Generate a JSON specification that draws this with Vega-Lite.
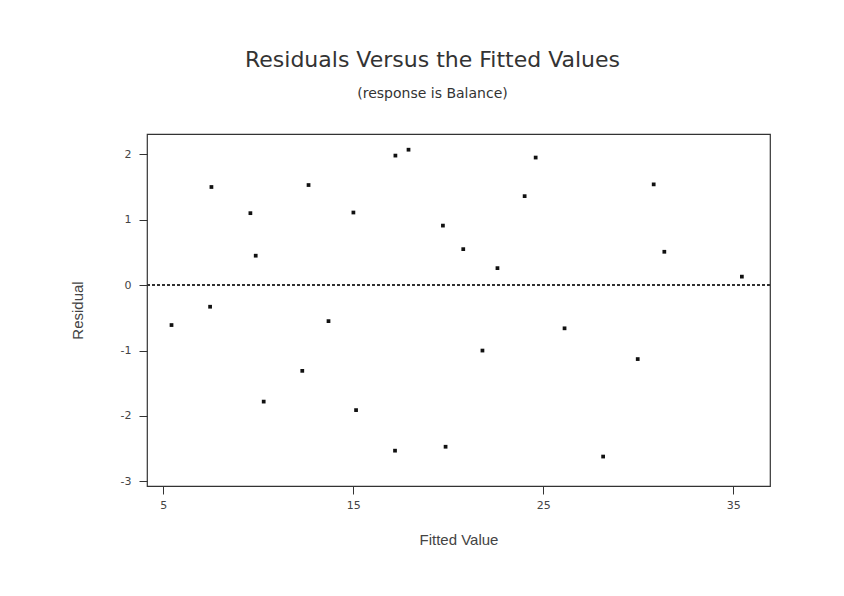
{
  "$schema": "https://vega.github.io/schema/vega-lite/v6.json",
  "width": 623,
  "height": 352,
  "autosize": {"type": "none"},
  "padding": {"left": 147, "top": 134, "right": 74, "bottom": 110},
  "background": "white",
  "config": {
    "font": "DejaVu Sans",
    "view": {"stroke": "#333", "strokeWidth": 1.2},
    "axis": {"grid": false, "domain": false, "tickColor": "#333", "tickSize": 8, "labelColor": "#444", "labelFontSize": 11, "titleColor": "#444", "titleFontWeight": "normal", "titleFontSize": 15, "labelFont": "DejaVu Sans", "titleFont": "Liberation Sans"}
  },
  "title": {
    "text": "Residuals Versus the Fitted Values",
    "subtitle": "(response is Balance)",
    "anchor": "middle",
    "dx": -26,
    "offset": 32,
    "fontSize": 22,
    "fontWeight": "normal",
    "color": "#333",
    "subtitleFontSize": 14,
    "subtitleColor": "#333",
    "subtitlePadding": 15,
    "font": "DejaVu Sans",
    "subtitleFont": "DejaVu Sans"
  },
  "data": {
    "values": [
      {"fitted": 5.44, "residual": -0.61},
      {"fitted": 7.47, "residual": -0.33},
      {"fitted": 7.54, "residual": 1.50},
      {"fitted": 9.59, "residual": 1.10},
      {"fitted": 9.87, "residual": 0.45},
      {"fitted": 10.29, "residual": -1.78},
      {"fitted": 12.32, "residual": -1.31},
      {"fitted": 12.65, "residual": 1.53},
      {"fitted": 13.70, "residual": -0.55},
      {"fitted": 15.01, "residual": 1.11},
      {"fitted": 15.15, "residual": -1.91},
      {"fitted": 17.20, "residual": -2.53},
      {"fitted": 17.22, "residual": 1.98},
      {"fitted": 17.91, "residual": 2.07},
      {"fitted": 19.72, "residual": 0.91},
      {"fitted": 19.86, "residual": -2.47},
      {"fitted": 20.79, "residual": 0.55},
      {"fitted": 21.80, "residual": -1.00},
      {"fitted": 22.59, "residual": 0.26},
      {"fitted": 24.02, "residual": 1.36},
      {"fitted": 24.60, "residual": 1.95},
      {"fitted": 26.12, "residual": -0.66},
      {"fitted": 28.15, "residual": -2.62},
      {"fitted": 29.97, "residual": -1.13},
      {"fitted": 30.81, "residual": 1.54},
      {"fitted": 31.37, "residual": 0.51},
      {"fitted": 35.45, "residual": 0.13}
    ]
  },
  "layer": [
    {
      "mark": {"type": "rule", "color": "#333", "strokeDash": [3, 2], "strokeWidth": 1.2},
      "encoding": {"y": {"datum": 0, "type": "quantitative"}}
    },
    {
      "mark": {"type": "point", "shape": "square", "filled": true, "color": "#111", "size": 14, "opacity": 1},
      "encoding": {
        "x": {
          "field": "fitted", "type": "quantitative",
          "scale": {"domain": [4.15, 36.93], "nice": false, "zero": false},
          "axis": {"values": [5, 15, 25, 35], "title": "Fitted Value", "labelPadding": 5, "titlePadding": 22}
        },
        "y": {
          "field": "residual", "type": "quantitative",
          "scale": {"domain": [-3.07, 2.31], "nice": false, "zero": false},
          "axis": {"values": [-3, -2, -1, 0, 1, 2], "labelExpr": "'' + datum.value", "title": "Residual", "labelPadding": 8, "titlePadding": 35}
        }
      }
    }
  ]
}
